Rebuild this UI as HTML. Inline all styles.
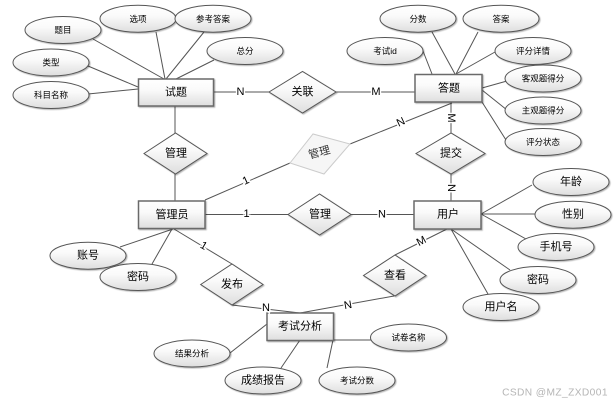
<!DOCTYPE html>
<html><head><meta charset="utf-8"><style>
html,body{margin:0;padding:0;background:#fff;width:614px;height:404px;overflow:hidden}
svg{display:block}
text{font-family:"Liberation Sans","Noto Sans CJK SC",sans-serif;text-anchor:middle;dominant-baseline:central;fill:#000}
.l{stroke:#555;stroke-width:1;fill:none}
.s{fill:url(#g);stroke:#555;stroke-width:1}
.b{stroke-width:1.5;stroke:#6a6a6a}
.t{font-size:11px}.x{font-size:8.5px}.m{font-size:11px}
.lb{paint-order:stroke;stroke:#fff;stroke-width:3px}
.sh{filter:drop-shadow(1px 1px .6px rgba(0,0,0,.3))}
</style></head><body>
<svg width="614" height="404" viewBox="0 0 614 404" xmlns="http://www.w3.org/2000/svg">
<defs><linearGradient id="g" x1="0" y1="0" x2="0" y2="1"><stop offset="0" stop-color="#fff"/><stop offset=".4" stop-color="#fafafa"/><stop offset="1" stop-color="#dedede"/></linearGradient></defs>
<g class="l">
<path d="M93 39L164 79M156 32L165 79M204 32L166 79M214 60L176 79M88 66L138 87M88 94L138 89"/>
<path d="M213 92H269M175 106V133M175 174V201M336 92H415"/>
<path d="M205 200L290 163M350 144L452 103"/>
<path d="M451 102V133M451 174V201"/>
<path d="M432 74L423 51M432 32L455 74M478 32L456 74M495 52L456 74M482 88L507 81M482 90L507 110M482 102L506 140"/>
<path d="M481 214L532 185M481 214H535M481 214L526 239M451 229L510 270M451 229L488 294"/>
<path d="M205 214.500H288M351 214.500H414"/>
<path d="M173 229L120 247M172 229L152 264M174 229L232 264"/>
<path d="M232 305L300 313M300 313L394 296M395 255L447 229"/>
<path d="M267 324L230 353M300 340L281 368M333 340H371M333 340L327 368"/>
</g>
<g class="sh">
<g class="s">
<ellipse cx="63" cy="30" rx="38" ry="13.500"/>
<ellipse cx="138" cy="18.700" rx="38" ry="13.500"/>
<ellipse cx="213" cy="18.700" rx="38" ry="13.500"/>
<ellipse cx="245" cy="51" rx="38" ry="13.500"/>
<ellipse cx="51" cy="62.500" rx="38" ry="13.500"/>
<ellipse cx="51" cy="95" rx="38" ry="13.500"/>
<ellipse cx="418" cy="18.700" rx="38" ry="13.500"/>
<ellipse cx="501" cy="18.700" rx="38" ry="13.500"/>
<ellipse cx="533" cy="51" rx="38" ry="13.500"/>
<ellipse cx="385" cy="51" rx="38" ry="13.500"/>
<ellipse cx="543" cy="78.500" rx="38" ry="13.500"/>
<ellipse cx="543" cy="110.500" rx="38" ry="13.500"/>
<ellipse cx="543" cy="142" rx="38" ry="13.500"/>
<ellipse cx="571" cy="182" rx="38" ry="13.500"/>
<ellipse cx="573" cy="214.700" rx="38" ry="13.500"/>
<ellipse cx="556" cy="247" rx="38" ry="13.500"/>
<ellipse cx="538" cy="280" rx="38" ry="13.500"/>
<ellipse cx="501" cy="307" rx="38" ry="13.500"/>
<ellipse cx="88" cy="255.700" rx="38" ry="13.500"/>
<ellipse cx="138" cy="277" rx="38" ry="13.500"/>
<ellipse cx="192" cy="353.500" rx="38" ry="13.500"/>
<ellipse cx="263" cy="380.500" rx="38" ry="13.500"/>
<ellipse cx="408.500" cy="337.500" rx="38" ry="13.500"/>
<ellipse cx="357" cy="380.500" rx="38" ry="13.500"/>
<polygon points="269,92 302.500,71.500 336,92 302.500,113"/>
<polygon points="144,153.500 175.500,133 207,153.500 175.500,174"/>
<polygon points="416,153.500 451,133 485,153.500 451,174"/>
<polygon points="288,214.500 319.500,194 351,214.500 319.500,235"/>
<polygon points="200.700,284.500 232,264 263,284.500 232,305"/>
<polygon points="363.500,275.500 395,255 426,275.500 395,296"/>
</g>
<g class="s b">
<rect x="138.500" y="79" width="75" height="27"/>
<rect x="415" y="74.500" width="67" height="27.500"/>
<rect x="138.500" y="201" width="66.500" height="27.500"/>
<rect x="414" y="201" width="67" height="28"/>
<rect x="267" y="313" width="66.500" height="27.500"/>
</g>
</g>
<polygon points="290,163 313,134 350,144 324,174" fill="#f6f6f6" stroke="#ccc"/>
<g class="x">
<text x="63" y="30">题目</text><text x="138" y="19">选项</text><text x="213" y="19">参考答案</text><text x="245" y="51">总分</text><text x="51" y="62.500">类型</text><text x="51" y="95">科目名称</text>
<text x="418" y="19">分数</text><text x="501" y="19">答案</text><text x="533" y="51">评分详情</text><text x="385" y="51">考试id</text><text x="543" y="78.500">客观题得分</text><text x="543" y="110.500">主观题得分</text><text x="543" y="142">评分状态</text>
<text x="192" y="353.500">结果分析</text><text x="408.500" y="337.500">试卷名称</text><text x="357" y="380.500">考试分数</text>
</g>
<g class="t">
<text x="176" y="92.500">试题</text><text x="449" y="88.500">答题</text><text x="172" y="215">管理员</text><text x="448" y="214.500">用户</text><text x="300" y="326.500">考试分析</text>
<text x="302.500" y="92">关联</text><text x="176" y="153.500">管理</text><text x="451" y="153.500">提交</text><text x="320" y="214.500">管理</text><text x="232" y="284.500">发布</text><text x="395" y="275.500">查看</text>
<text transform="translate(319.500 153) rotate(-15)" style="fill:#333">管理</text>
<text x="571" y="182">年龄</text><text x="573" y="214.700">性别</text><text x="556" y="247">手机号</text><text x="538" y="280">密码</text><text x="501" y="307">用户名</text>
<text x="88" y="255.700">账号</text><text x="138" y="277">密码</text><text x="263" y="380.500">成绩报告</text>
</g>
<g class="m">
<text class="lb" x="240.500" y="92">N</text>
<text class="lb" x="376" y="92">M</text>
<text class="lb" transform="translate(451 118) rotate(90)">M</text>
<text class="lb" transform="translate(451 188) rotate(90)">N</text>
<text class="lb" transform="translate(401 122.500) rotate(-25)">N</text>
<text class="lb" transform="translate(246 181) rotate(-25)">1</text>
<text class="lb" x="246.500" y="214">1</text>
<text class="lb" x="382" y="214.500">N</text>
<text class="lb" transform="translate(203.500 246) rotate(30)">1</text>
<text class="lb" x="266" y="308">N</text>
<text class="lb" transform="translate(348 305.500) rotate(-10)">N</text>
<text class="lb" transform="translate(421.500 241.500) rotate(-28)">M</text>
</g>
<text x="555" y="393" style="font-size:10.200px;letter-spacing:.4px;fill:#b5b5b5">CSDN @MZ_ZXD001</text>
</svg>
</body></html>
